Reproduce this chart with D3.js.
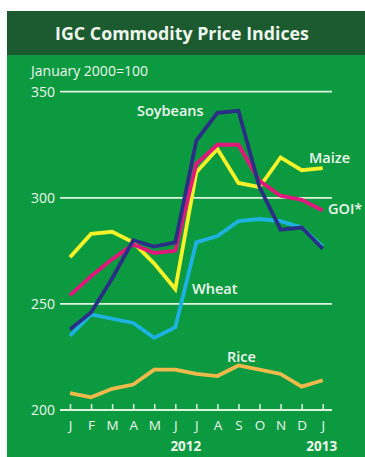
<!DOCTYPE html>
<html>
<head>
<meta charset="utf-8">
<script src="https://cdn.jsdelivr.net/npm/d3@7"></script>
<style>
  body { margin: 0; background: #fff; }
  text { font-family: "Open Sans", "Noto Sans", sans-serif; }
</style>
</head>
<body>
<div id="chart"></div>
<script>
// IGC commodity price indices, Jan 2012 - Jan 2013 (January 2000=100)
const months = ["J", "F", "M", "A", "M", "J", "J", "A", "S", "O", "N", "D", "J"];
const maize    = [272, 283, 284, 279, 269, 257, 312, 323, 307, 305, 319, 313, 314];
const soybeans = [238, 246, 262, 280, 277, 279, 327, 340, 341, 305, 285, 286, 276];
const wheat    = [235, 245, 243, 241, 234, 239, 279, 282, 289, 290, 289, 286, 277];
const goi      = [254, 263, 271, 278, 274, 275, 316, 325, 325, 308, 301, 299, 294];
const rice     = [208, 206, 210, 212, 219, 219, 217, 216, 221, 219, 217, 211, 214];
const yTicks = [200, 250, 300, 350];

const W = 365, H = 457;
const txt = "#eef6ee";
const svg = d3.select("#chart").append("svg")
  .attr("width", W).attr("height", H);

// panel
svg.append("rect").attr("x", 7).attr("y", 11).attr("width", W - 7).attr("height", H - 11)
  .attr("fill", "#0b9a40");
svg.append("rect").attr("x", 7).attr("y", 11).attr("width", W - 7).attr("height", 44)
  .attr("fill", "#1c5a30");
svg.append("text").attr("x", 182).attr("y", 40).attr("text-anchor", "middle")
  .attr("font-size", 17.8).attr("font-weight", 700).attr("fill", txt)
  .text("IGC Commodity Price Indices");
svg.append("text").attr("x", 31).attr("y", 76)
  .attr("font-size", 14).attr("fill", txt)
  .text("January 2000=100");

const x = d3.scalePoint().domain(d3.range(months.length)).range([70, 322.7]);
const y = d3.scaleLinear().domain([200, 350]).range([410, 91.7]);

// gridlines + y labels
const grid = svg.append("g");
grid.selectAll("line").data(yTicks).join("line")
  .attr("x1", 60).attr("x2", 332)
  .attr("y1", d => y(d)).attr("y2", d => y(d))
  .attr("stroke", "#dff2df").attr("stroke-width", 1.8);
grid.selectAll("text").data(yTicks).join("text")
  .attr("x", 55).attr("y", d => y(d) + 5).attr("text-anchor", "end")
  .attr("font-size", 14).attr("fill", txt)
  .text(d => d);

// x axis ticks and month labels
const xAxis = d3.axisBottom(x).tickSize(-6).tickFormat(i => months[i]).tickPadding(10);
const gx = svg.append("g").attr("transform", `translate(0,${y(200)})`).call(xAxis);
gx.select(".domain").remove();
gx.selectAll(".tick line").attr("stroke", "#dff2df").attr("stroke-width", 1.5);
gx.selectAll(".tick text").attr("font-size", 13.5).attr("fill", txt)
  .attr("font-family", "Open Sans, Noto Sans, sans-serif");

svg.append("text").attr("x", (x(5) + x(6)) / 2).attr("y", 451).attr("text-anchor", "middle")
  .attr("font-size", 13.5).attr("font-weight", 700).attr("fill", txt).text("2012");
svg.append("text").attr("x", x(12) - 1).attr("y", 451).attr("text-anchor", "middle")
  .attr("font-size", 13.5).attr("font-weight", 700).attr("fill", txt).text("2013");

// series lines
const line = d3.line().x((d, i) => x(i)).y(d => y(d));
const series = [
  { vals: rice, color: "#f0b94c" },
  { vals: wheat, color: "#1db2e2" },
  { vals: maize, color: "#f6f22a" },
  { vals: goi, color: "#e0187c" },
  { vals: soybeans, color: "#2b2e85" },
];
svg.append("g").selectAll("path").data(series).join("path")
  .attr("d", d => line(d.vals))
  .attr("fill", "none")
  .attr("stroke", d => d.color)
  .attr("stroke-width", 3.8)
  .attr("stroke-linejoin", "miter");

// series labels
const labels = [
  { t: "Soybeans", x: 137, y: 116 },
  { t: "Maize", x: 309, y: 163 },
  { t: "GOI*", x: 328, y: 214 },
  { t: "Wheat", x: 192, y: 294 },
  { t: "Rice", x: 227, y: 362 },
];
svg.append("g").selectAll("text").data(labels).join("text")
  .attr("x", d => d.x).attr("y", d => d.y)
  .attr("font-size", 14.5).attr("font-weight", 600).attr("fill", txt)
  .text(d => d.t);
</script>
</body>
</html>
